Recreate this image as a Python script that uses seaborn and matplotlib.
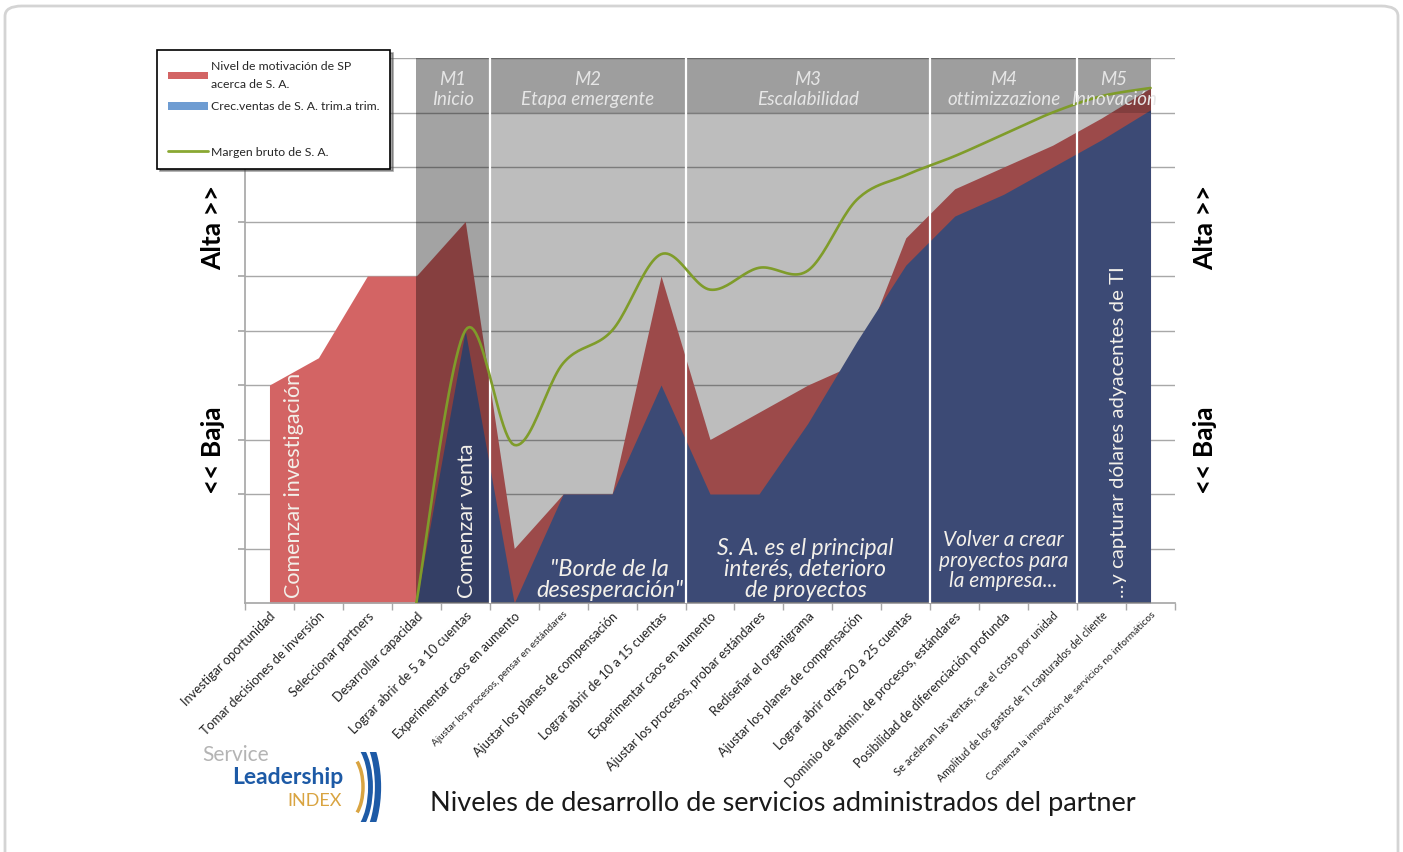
import numpy as np
import pandas as pd
import seaborn as sns
import matplotlib.pyplot as plt
from matplotlib.patches import Patch, FancyBboxPatch, Arc
from matplotlib.lines import Line2D

sns.set_theme(style='white')
plt.rcParams['font.family'] = ['Lato', 'DejaVu Sans']

# categories (x axis)
steps = [
    'Investigar oportunidad',
    'Tomar decisiones de inversión',
    'Seleccionar partners',
    'Desarrollar capacidad',
    'Lograr abrir de 5 a 10 cuentas',
    'Experimentar caos en aumento',
    'Ajustar los procesos, pensar en estándares',
    'Ajustar los planes de compensación',
    'Lograr abrir de 10 a 15 cuentas',
    'Experimentar caos en aumento',
    'Ajustar los procesos, probar estándares',
    'Rediseñar el organigrama',
    'Ajustar los planes de compensación',
    'Lograr abrir otras 20 a 25 cuentas',
    'Dominio de admin. de procesos, estándares',
    'Posibilidad de diferenciación profunda',
    'Se aceleran las ventas, cae el costo por unidad',
    'Amplitud de los gastos de TI capturados del cliente',
    'Comienza la innovación de servicios no informáticos',
]
label_sizes = [9.2, 9.2, 9.2, 9.2, 9.2, 9.2, 7.2, 9.2, 9.2, 9.2,
               9.2, 9.2, 9.2, 9.2, 9.2, 9.2, 8.0, 7.6, 7.4]

# series values (0..10 scale)
motivacion = [4.0, 4.5, 6.0, 6.0, 7.0, 1.0, 2.0, 2.0, 6.0, 3.0,
              3.5, 4.0, 4.4, 6.7, 7.6, 8.0, 8.4, 8.9, 9.45]
ventas = [np.nan, np.nan, np.nan, 0.0, 5.0, 0.0, 2.0, 2.0, 4.0, 2.0,
          2.0, 3.3, 4.8, 6.2, 7.1, 7.5, 8.0, 8.5, 9.05]
margen = [np.nan, np.nan, np.nan, 0.0, 5.0, 2.9, 4.4, 5.0, 6.4, 5.75,
          6.15, 6.1, 7.4, 7.85, 8.2, 8.6, 9.0, 9.3, 9.45]

# stages: edges in category units and titles
stage_edges = [3, 4.5, 8.5, 13.5, 16.5, 18]
stage_titles = ['M1\nInicio', 'M2\nEtapa emergente', 'M3\nEscalabilidad',
                'M4\nottimizzazione', 'M5\nInnovación']

RED = '#d36464'
BLUE = '#52649e'
GREEN = '#7f9c2a'


def smooth(xs, ys, n=24):
    # Bezier smoothing through the points, like a spreadsheet "smoothed line"
    pts = np.column_stack([xs, ys])
    out = []
    for i in range(len(pts) - 1):
        p0 = pts[max(i - 1, 0)]
        p1 = pts[i]
        p2 = pts[i + 1]
        p3 = pts[min(i + 2, len(pts) - 1)]
        c1 = p1 + (p2 - p0) / 6
        c2 = p2 - (p3 - p1) / 6
        t = np.linspace(0, 1, n)[:, None]
        seg = (1 - t) ** 3 * p1 + 3 * (1 - t) ** 2 * t * c1 + 3 * (1 - t) * t ** 2 * c2 + t ** 3 * p2
        out.append(seg if i == 0 else seg[1:])
    return np.vstack(out)


fig = plt.figure(figsize=(14.03, 8.52), dpi=100)
ax = fig.add_axes([245 / 1403, 1 - 603 / 852, 930 / 1403, 545 / 852])

x = np.arange(len(steps))
df = pd.DataFrame({'paso': x, 'motivacion': motivacion, 'ventas': ventas, 'margen': margen})

# areas
ax.fill_between(df['paso'], 0, df['motivacion'], color=RED, lw=0, zorder=1)
v = df.dropna(subset=['ventas'])
ax.fill_between(v['paso'], 0, v['ventas'], color=BLUE, lw=0, zorder=2)

# stage bands
for i, (a, b) in enumerate(zip(stage_edges[:-1], stage_edges[1:])):
    alpha = 0.36 if i == 0 else 0.26
    ax.axvspan(a, b, ymin=0, ymax=0.9, color='black', alpha=alpha, lw=0, zorder=3)
    ax.axvspan(a, b, ymin=0.9, ymax=1.0, color='black', alpha=0.38, lw=0, zorder=3)
    ax.text((a + b) / 2, 9.42, stage_titles[i], ha='center', va='center',
            color='#e6e6e6', fontsize=13.5, style='italic', linespacing=1.2, zorder=6)
for e in stage_edges[1:-1]:
    ax.axvline(e, color='white', lw=1.6, zorder=4)

# smoothed margin line
m = df.dropna(subset=['margen'])
sm = smooth(m['paso'].to_numpy(float), m['margen'].to_numpy(float))
sns.lineplot(x=sm[:, 0], y=sm[:, 1], ax=ax, color=GREEN, lw=1.9,
             sort=False, estimator=None, zorder=5)

# annotations
txt = dict(color='#f3f0ea', zorder=6)
ax.text(0.5, 0.1, 'Comenzar investigación', rotation=90, ha='center', va='bottom',
        fontsize=15.5, **txt)
ax.text(4.03, 0.1, 'Comenzar venta', rotation=90, ha='center', va='bottom',
        fontsize=15.5, **txt)
ax.text(17.35, 0.1, '...y capturar dólares adyacentes de TI', rotation=90,
        ha='center', va='bottom', fontsize=14.7, **txt)
ax.text(6.95, 0.03, '"Borde de la\ndesesperación"', ha='center', va='bottom',
        fontsize=17, style='italic', linespacing=1.02, **txt)
ax.text(10.95, 0.03, 'S. A. es el principal\ninterés, deterioro\nde proyectos',
        ha='center', va='bottom', fontsize=16.5, style='italic', linespacing=1.02, **txt)
ax.text(15.0, 0.22, 'Volver a crear\nproyectos para\nla empresa...',
        ha='center', va='bottom', fontsize=15, style='italic', linespacing=1.02, **txt)

# axes styling
ax.set_xlim(-0.5, 18.5)
ax.set_ylim(0, 10)
ax.set_yticks(range(1, 11))
ax.set_yticklabels([])
ax.yaxis.grid(True, color='#a8a8a8', lw=1)
ax.set_axisbelow(True)
ax.tick_params(axis='y', length=5, color='#a8a8a8', left=True)
ax.set_xticks(x)
ax.set_xticklabels(steps, rotation=45, ha='right', rotation_mode='anchor',
                   color='#222222')
for lab, s in zip(ax.get_xticklabels(), label_sizes):
    lab.set_fontsize(s)
ax.set_xticks(np.arange(-0.5, 19, 1), minor=True)
ax.tick_params(axis='x', which='major', length=0, pad=5)
ax.tick_params(axis='x', which='minor', length=5, color='#a8a8a8', bottom=True)
for s in ['top', 'right']:
    ax.spines[s].set_visible(False)
for s in ['left', 'bottom']:
    ax.spines[s].set_color('#a8a8a8')
ax.set_xlabel('')
ax.set_ylabel('')

# side labels
for xp in [213 / 1403, 1205 / 1403]:
    fig.text(xp, 1 - 228 / 852, 'Alta >>', rotation=90, ha='center', va='center',
             fontsize=19, fontweight='bold', color='black')
    fig.text(xp, 1 - 450 / 852, '<< Baja', rotation=90, ha='center', va='center',
             fontsize=19, fontweight='bold', color='black')

# legend (blank entry keeps the gap before the line)
handles = [Patch(facecolor=RED, edgecolor='none'),
           Patch(facecolor='#6e9cd2', edgecolor='none'),
           Patch(visible=False),
           Line2D([0], [0], color='#8aa832', lw=2)]
labels = ['Nivel de motivación de SP\nacerca de S. A.',
          'Crec.ventas de S. A. trim.a trim.',
          ' ',
          'Margen bruto de S. A.']
leg = fig.legend(handles, labels, loc='upper left',
                 bbox_to_anchor=(157 / 1403, 1 - 50 / 852), fontsize=8.8,
                 frameon=True, fancybox=False, shadow=True, edgecolor='black',
                 handlelength=3.3, handleheight=0.6, handletextpad=0.2,
                 labelspacing=0.95, borderpad=0.9, borderaxespad=0)
leg.get_texts()[0].set_linespacing(1.75)
leg.get_frame().set_linewidth(1.2)

# bottom title
fig.text(783 / 1403, 1 - 803 / 852,
         'Niveles de desarrollo de servicios administrados del partner',
         ha='center', va='center', fontsize=19.5, color='#1a1a1a')

# logo
fig.text(202 / 1403, 1 - 755 / 852, 'Service', fontsize=15, color='#b4b4b4',
         ha='left', va='center')
fig.text(232 / 1403, 1 - 777 / 852, 'Leadership', fontsize=16.5, color='#1d5aa6',
         fontweight='bold', ha='left', va='center')
fig.text(342 / 1403, 1 - 801 / 852, 'INDEX', fontsize=13, color='#d9a441',
         ha='right', va='center')
lax = fig.add_axes([345 / 1403, 1 - 822 / 852, 42 / 1403, 70 / 852])
lax.set_xlim(-2.2, 0.6)
lax.set_ylim(-2.3, 2.3)
lax.axis('off')
for r, c, w in [(1.0, '#d9a441', 2.5), (1.5, '#1d5aa6', 3.5), (2.0, '#1d5aa6', 4.5)]:
    lax.add_patch(Arc((-2.0, 0), r * 2, r * 4.2, theta1=-70, theta2=70, color=c, lw=w))

# page frame
frame = FancyBboxPatch((5 / 1403, -0.05), 1393 / 1403, 1.05 - 6 / 852,
                       boxstyle='round,pad=0,rounding_size=0.012',
                       transform=fig.transFigure, facecolor='none',
                       edgecolor='#d4d4d4', lw=2, zorder=-1)
fig.patches.append(frame)

fig.savefig('out.png', dpi=100)
